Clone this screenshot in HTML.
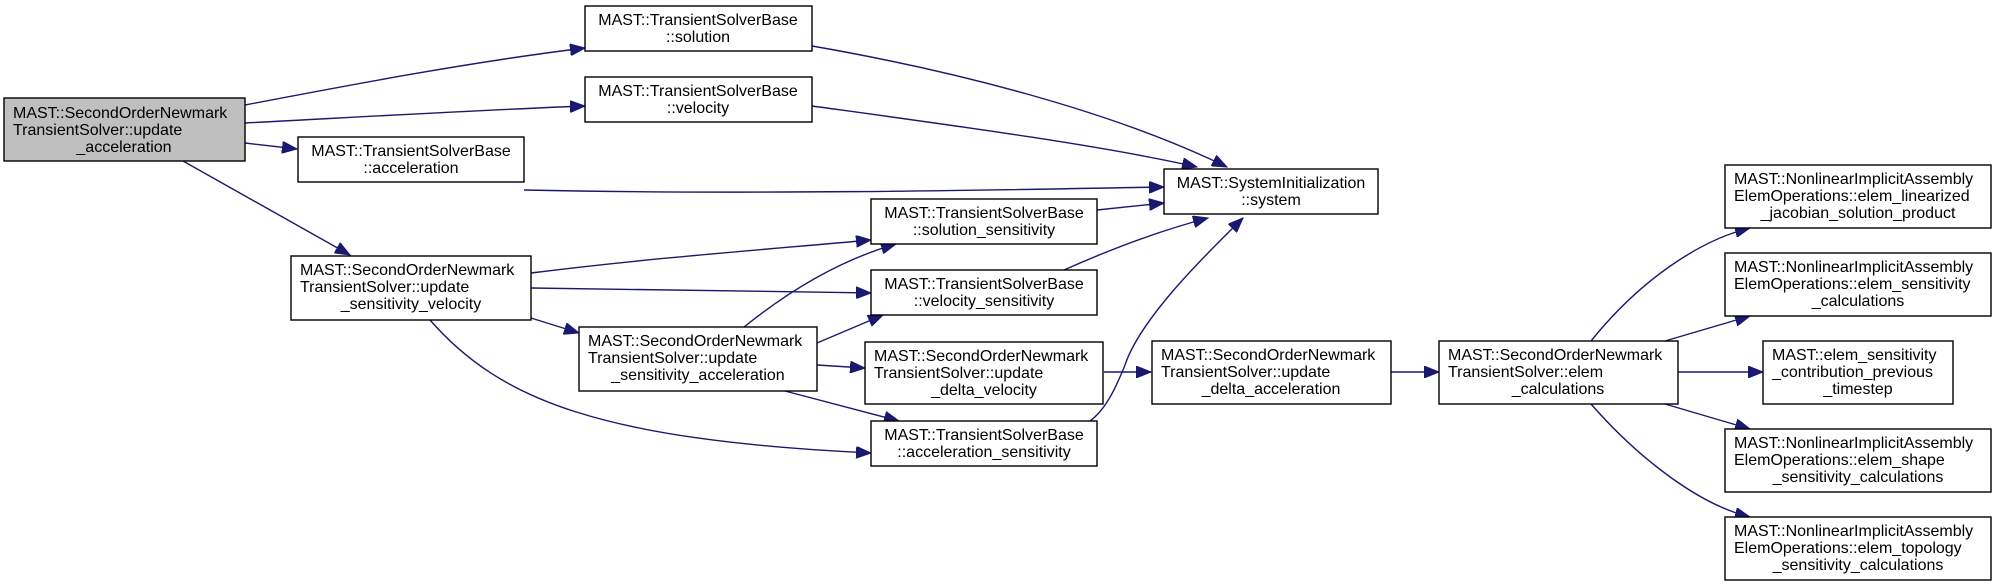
<!DOCTYPE html>
<html><head><meta charset="utf-8"><style>
html,body{margin:0;padding:0;background:#fff;}
svg{display:block;}
text{font-family:"Liberation Sans",Arial,sans-serif;font-size:16px;fill:#000;}
.b{fill:#fff;stroke:#000;stroke-width:1.4;}
.g{fill:#bfbfbf;stroke:#000;stroke-width:1.4;}
.e{fill:none;stroke:#191970;stroke-width:1.4;}
</style></head><body>
<svg width="1996" height="586" viewBox="0 0 1996 586" xmlns="http://www.w3.org/2000/svg">
<defs>
<marker id="a" markerUnits="userSpaceOnUse" markerWidth="16" markerHeight="12" refX="15" refY="6" orient="auto">
<path d="M0,0 L15,6 L0,12 z" fill="#191970" stroke="#191970"/>
</marker>
</defs>

<g class="e" marker-end="url(#a)">
<path d="M245,105 C350,85 470,62 585,48"/>
<path d="M245,123 C360,117 480,110 585,106"/>
<path d="M245,143 L297,149"/>
<path d="M183,161 L350,255"/>
<path d="M812,46 C950,70 1110,110 1227,167"/>
<path d="M812,106 C950,125 1100,145 1197,167"/>
<path d="M524,190 C750,195 1000,190 1164,187"/>
<path d="M1097,210 L1164,203"/>
<path d="M1064,270 C1120,245 1170,228 1208,218"/>
<path d="M1090,421 C1105,410 1115,390 1125,365 C1140,320 1200,260 1243,218"/>
<path d="M531,273 C650,258 760,250 871,240"/>
<path d="M531,288 C650,290 760,291 871,293"/>
<path d="M531,318 L579,333"/>
<path d="M430,320 C500,400 600,440 871,453"/>
<path d="M744,327 C790,290 840,260 896,244"/>
<path d="M817,343 L883,315"/>
<path d="M817,365 L865,368"/>
<path d="M785,391 L899,421"/>
<path d="M1104,372 L1151,372"/>
<path d="M1391,372 L1439,372"/>
<path d="M1591,341 C1640,280 1700,240 1750,228"/>
<path d="M1665,341 L1750,316"/>
<path d="M1678,372 L1763,372"/>
<path d="M1665,404 L1750,429"/>
<path d="M1591,404 C1640,460 1700,505 1750,517"/>
</g>

<rect class="g" x="4" y="98" width="241" height="63"/>
<text x="13" y="118">MAST::SecondOrderNewmark</text>
<text x="13" y="135">TransientSolver::update</text>
<text x="124" y="152" text-anchor="middle">_acceleration</text>

<rect class="b" x="585" y="6" width="227" height="45"/>
<text x="698" y="25" text-anchor="middle">MAST::TransientSolverBase</text>
<text x="698" y="42" text-anchor="middle">::solution</text>

<rect class="b" x="585" y="77" width="227" height="45"/>
<text x="698" y="96" text-anchor="middle">MAST::TransientSolverBase</text>
<text x="698" y="113" text-anchor="middle">::velocity</text>

<rect class="b" x="298" y="137" width="226" height="45"/>
<text x="411" y="156" text-anchor="middle">MAST::TransientSolverBase</text>
<text x="411" y="173" text-anchor="middle">::acceleration</text>

<rect class="b" x="1164" y="169" width="214" height="45"/>
<text x="1271" y="188" text-anchor="middle">MAST::SystemInitialization</text>
<text x="1271" y="205" text-anchor="middle">::system</text>

<rect class="b" x="291" y="256" width="240" height="64"/>
<text x="300" y="275">MAST::SecondOrderNewmark</text>
<text x="300" y="292">TransientSolver::update</text>
<text x="411" y="309" text-anchor="middle">_sensitivity_velocity</text>

<rect class="b" x="871" y="199" width="226" height="45"/>
<text x="984" y="218" text-anchor="middle">MAST::TransientSolverBase</text>
<text x="984" y="235" text-anchor="middle">::solution_sensitivity</text>

<rect class="b" x="871" y="270" width="226" height="45"/>
<text x="984" y="289" text-anchor="middle">MAST::TransientSolverBase</text>
<text x="984" y="306" text-anchor="middle">::velocity_sensitivity</text>

<rect class="b" x="579" y="327" width="238" height="64"/>
<text x="588" y="346">MAST::SecondOrderNewmark</text>
<text x="588" y="363">TransientSolver::update</text>
<text x="698" y="380" text-anchor="middle">_sensitivity_acceleration</text>

<rect class="b" x="865" y="342" width="238" height="62"/>
<text x="874" y="361">MAST::SecondOrderNewmark</text>
<text x="874" y="378">TransientSolver::update</text>
<text x="984" y="395" text-anchor="middle">_delta_velocity</text>

<rect class="b" x="871" y="421" width="226" height="45"/>
<text x="984" y="440" text-anchor="middle">MAST::TransientSolverBase</text>
<text x="984" y="457" text-anchor="middle">::acceleration_sensitivity</text>

<rect class="b" x="1152" y="341" width="239" height="63"/>
<text x="1161" y="360">MAST::SecondOrderNewmark</text>
<text x="1161" y="377">TransientSolver::update</text>
<text x="1271" y="394" text-anchor="middle">_delta_acceleration</text>

<rect class="b" x="1439" y="341" width="239" height="63"/>
<text x="1448" y="360">MAST::SecondOrderNewmark</text>
<text x="1448" y="377">TransientSolver::elem</text>
<text x="1558" y="394" text-anchor="middle">_calculations</text>

<rect class="b" x="1725" y="165" width="266" height="63"/>
<text x="1734" y="184">MAST::NonlinearImplicitAssembly</text>
<text x="1734" y="201">ElemOperations::elem_linearized</text>
<text x="1858" y="218" text-anchor="middle">_jacobian_solution_product</text>

<rect class="b" x="1725" y="253" width="266" height="63"/>
<text x="1734" y="272">MAST::NonlinearImplicitAssembly</text>
<text x="1734" y="289">ElemOperations::elem_sensitivity</text>
<text x="1858" y="306" text-anchor="middle">_calculations</text>

<rect class="b" x="1763" y="341" width="190" height="63"/>
<text x="1772" y="360">MAST::elem_sensitivity</text>
<text x="1772" y="377">_contribution_previous</text>
<text x="1858" y="394" text-anchor="middle">_timestep</text>

<rect class="b" x="1725" y="429" width="266" height="63"/>
<text x="1734" y="448">MAST::NonlinearImplicitAssembly</text>
<text x="1734" y="465">ElemOperations::elem_shape</text>
<text x="1858" y="482" text-anchor="middle">_sensitivity_calculations</text>

<rect class="b" x="1725" y="517" width="266" height="63"/>
<text x="1734" y="536">MAST::NonlinearImplicitAssembly</text>
<text x="1734" y="553">ElemOperations::elem_topology</text>
<text x="1858" y="570" text-anchor="middle">_sensitivity_calculations</text>
</svg>
</body></html>
